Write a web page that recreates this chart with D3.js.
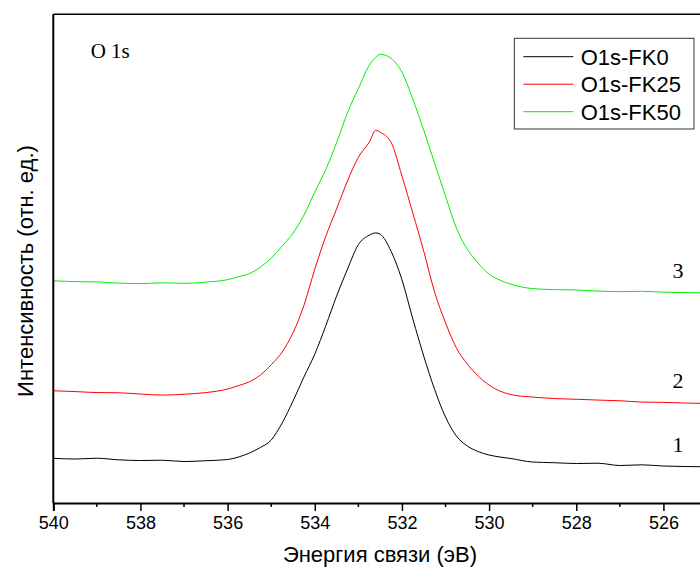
<!DOCTYPE html>
<html>
<head>
<meta charset="utf-8">
<script src="https://cdn.jsdelivr.net/npm/d3@7"></script>
<style>
  body { margin: 0; background: #fff; }
  svg { display: block; }
</style>
</head>
<body>
<div id="chart"></div>
<script>
// binding energy (eV), shared by all three spectra
var energy = [540, 539.5, 539, 538.5, 538, 537.5, 537, 536.5, 536, 535.75, 535.5, 535.25, 535,
  534.75, 534.5, 534.25, 534, 533.75, 533.5, 533.25, 533, 532.75, 532.6, 532.5, 532.25, 532,
  531.75, 531.5, 531.25, 531, 530.75, 530.5, 530.25, 530, 529.75, 529.5, 529, 528.5, 528,
  527.5, 527, 526.5, 526, 525.5, 525.1];

// intensity, arbitrary units (curves are stacked with an offset)
var fk0 = [44.7, 44, 44.8, 43.2, 42.5, 42.8, 41.5, 42.3, 43.5, 46, 50, 55.5, 63,
  80, 102, 126, 149, 177, 207, 234, 258.5, 268, 270.3, 269, 252, 223.4,
  184.2, 147, 113.6, 86, 67, 57, 51.5, 48, 46, 44.5, 41, 40.3, 39.5,
  39.8, 37.5, 38.2, 37, 36.5, 36.3];

var fk25 = [112.3, 111.5, 110.5, 110.3, 109, 108, 108.8, 110.5, 114, 117.5, 121.3, 128, 138.3,
  151, 170.3, 197.6, 234, 266.5, 294.2, 322.2, 346, 361, 373, 371, 361, 327.2,
  290, 252, 211, 180.3, 155.2, 139, 127, 118, 112, 108.5, 106, 104.5, 103.8,
  103, 102.3, 101, 100.7, 100, 99.7];

var fk50 = [222.3, 221.5, 221.2, 220, 219.5, 220.3, 219.8, 221, 223.5, 226.5, 229.5, 236, 245,
  257, 270, 288, 311, 333.4, 360.4, 390.5, 414.7, 438, 446, 449, 445, 431,
  404, 373, 340, 307, 275, 254, 240, 229, 223, 219, 214.5, 213.5, 213.2,
  212, 211.5, 211.8, 211, 210.5, 210.3];

var seriesNames = ["O1s-FK0", "O1s-FK25", "O1s-FK50"];
var seriesColors = ["#000000", "#ff0000", "#00ee00"];
var curveLabels = ["1", "2", "3"];
var xTicks = [540, 538, 536, 534, 532, 530, 528, 526];
var xMinorTicks = [539, 537, 535, 533, 531, 529, 527, 525];

function init() {
    var w = 700;
    var h = 572;
    var left = 53.3, top = 14.3, bottom = 503, right = 707;

    var svg = d3.select("#chart").append("svg")
                .attr("width", w)
                .attr("height", h);

    var xScale = d3.scaleLinear()
        .domain([540, 525])
        .range([left, right]);

    var yScale = d3.scaleLinear()
        .domain([0, 489])
        .range([bottom, top]);

    var series = [fk0, fk25, fk50].map(function(vals, i) {
        return {
            name: seriesNames[i],
            color: seriesColors[i],
            points: energy.map(function(e, j) { return { e: e, v: vals[j] }; })
        };
    });

    svg.append("clipPath").attr("id", "plotclip")
        .append("rect")
        .attr("x", left).attr("y", top)
        .attr("width", right - left).attr("height", bottom - top);

    var line = d3.line()
        .x(d => xScale(d.e))
        .y(d => yScale(d.v))
        .curve(d3.curveMonotoneX);

    svg.append("g").attr("clip-path", "url(#plotclip)")
        .selectAll("path")
        .data(series)
        .enter()
        .append("path")
        .attr("d", d => line(d.points))
        .attr("fill", "none")
        .attr("stroke", d => d.color)
        .attr("stroke-width", 1);

    // frame: top and left
    svg.append("line")
        .attr("x1", left).attr("x2", w + 5)
        .attr("y1", top).attr("y2", top)
        .attr("stroke", "#000").attr("stroke-width", 1.5);
    svg.append("line")
        .attr("x1", left).attr("x2", left)
        .attr("y1", top).attr("y2", bottom)
        .attr("stroke", "#000").attr("stroke-width", 2);

    // bottom axis
    var xAxis = d3.axisBottom(xScale)
        .tickValues(xTicks)
        .tickSize(8)
        .tickPadding(5)
        .tickFormat(d3.format("d"));

    var gx = svg.append("g")
        .attr("transform", `translate(0,${bottom})`)
        .call(xAxis);
    gx.select(".domain").attr("stroke-width", 2);
    gx.selectAll(".tick line").attr("stroke-width", 1.5);
    gx.selectAll(".tick text")
        .style("font-family", "'Liberation Sans', Arial, sans-serif")
        .style("font-size", "18px")
        .attr("fill", "#000");

    svg.append("g")
        .selectAll("line")
        .data(xMinorTicks)
        .enter()
        .append("line")
        .attr("x1", d => xScale(d)).attr("x2", d => xScale(d))
        .attr("y1", bottom).attr("y2", bottom + 4)
        .attr("stroke", "#000").attr("stroke-width", 1.5);

    // axis titles
    svg.append("text")
        .attr("x", 380).attr("y", 562)
        .style("text-anchor", "middle")
        .style("font-family", "'Liberation Sans', Arial, sans-serif")
        .style("font-size", "22px")
        .text("Энергия связи (эВ)");

    svg.append("text")
        .attr("transform", "translate(33,271) rotate(-90)")
        .style("text-anchor", "middle")
        .style("font-family", "'Liberation Sans', Arial, sans-serif")
        .style("font-size", "22px")
        .text("Интенсивность (отн. ед.)");

    // panel label
    svg.append("text")
        .attr("x", 90.7).attr("y", 58)
        .style("font-family", "'Liberation Serif', 'Times New Roman', serif")
        .style("font-size", "21px")
        .text("O 1s");

    // curve numbers near the right end
    svg.selectAll(".curvelabel")
        .data(series)
        .enter()
        .append("text")
        .attr("class", "curvelabel")
        .attr("x", 678)
        .attr("y", d => yScale(d.points[d.points.length - 2].v) - 15)
        .style("text-anchor", "middle")
        .style("font-family", "'Liberation Serif', 'Times New Roman', serif")
        .style("font-size", "22px")
        .text((d, i) => curveLabels[i]);

    // legend
    var lg = svg.append("g");
    lg.append("rect")
        .attr("x", 514.3).attr("y", 38.3)
        .attr("width", 179.7).attr("height", 90.7)
        .attr("fill", "#fff")
        .attr("stroke", "#333").attr("stroke-width", 1);

    var rows = lg.selectAll(".row")
        .data(series)
        .enter()
        .append("g")
        .attr("transform", (d, i) => `translate(0,${56.7 + i * 27.5})`);
    rows.append("line")
        .attr("x1", 523.3).attr("x2", 573.3)
        .attr("stroke", d => d.color).attr("stroke-width", 1);
    rows.append("text")
        .attr("x", 580.7).attr("y", 8)
        .style("font-family", "'Liberation Sans', Arial, sans-serif")
        .style("font-size", "22px")
        .text(d => d.name);
}

window.onload = init;
</script>
</body>
</html>
